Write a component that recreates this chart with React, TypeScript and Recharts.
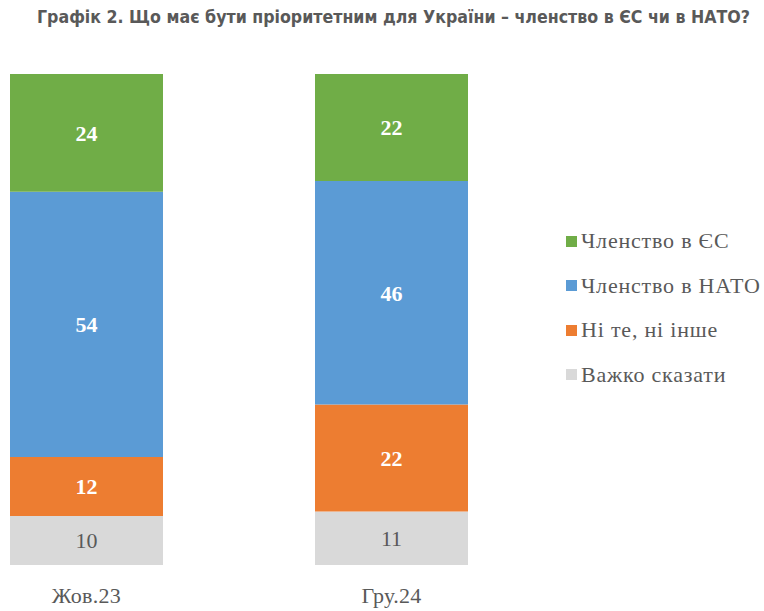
import React from 'react';
import { BarChart, Bar, XAxis, YAxis, Legend, LabelList } from 'recharts';

const categories = ['Жов.23', 'Гру.24'];
const euValues = [24, 22];
const natoValues = [54, 46];
const neitherValues = [12, 22];
const hardValues = [10, 11];

// legend order (top to bottom)
const legendNames = ['Членство в ЄС', 'Членство в НАТО', 'Ні те, ні інше', 'Важко сказати'];
const legendColors = ['#70AD47', '#5B9BD5', '#ED7D31', '#D9D9D9'];

const data = categories.map((name, i) => ({
  name,
  eu: euValues[i],
  nato: natoValues[i],
  neither: neitherValues[i],
  hard: hardValues[i],
}));

// stacking order: first declared is at the bottom
const series = [
  { key: 'hard', name: legendNames[3], color: legendColors[3], label: '#595959', weight: 'normal' },
  { key: 'neither', name: legendNames[2], color: legendColors[2], label: '#FFFFFF', weight: 'bold' },
  { key: 'nato', name: legendNames[1], color: legendColors[1], label: '#FFFFFF', weight: 'bold' },
  { key: 'eu', name: legendNames[0], color: legendColors[0], label: '#FFFFFF', weight: 'bold' },
];

const serif = '"Liberation Serif", "Times New Roman", serif';
const gray = '#595959';

const renderLegend = () => (
  <div style={{ fontFamily: serif, fontSize: 22, color: gray, letterSpacing: 0.8 }}>
    {legendNames.map((n, i) => (
      <div key={n} style={{ display: 'flex', alignItems: 'center', height: 44.5, whiteSpace: 'nowrap' }}>
        <span style={{ width: 11, height: 11, background: legendColors[i], marginRight: 4, display: 'inline-block' }} />
        <span>{n}</span>
      </div>
    ))}
  </div>
);

export default function App() {
  return (
    <div style={{ position: 'absolute', left: 0, top: 0, width: 764, height: 611, overflow: 'hidden', background: '#fff' }}>
      <svg width={764} height={40} style={{ position: 'absolute', left: 0, top: 0 }}>
        <text
          x={37}
          y={23}
          textLength={713}
          lengthAdjust="spacingAndGlyphs"
          fill={gray}
          fontSize={17}
          fontWeight="bold"
          fontFamily='"Liberation Sans Narrow", "DejaVu Sans Condensed", Arial, sans-serif'
        >
          Графік 2. Що має бути пріоритетним для України – членство в ЄС чи в НАТО?
        </text>
      </svg>
      <BarChart
        width={830}
        height={611}
        data={data}
        stackOffset="expand"
        margin={{ top: 74, right: 220, bottom: 0, left: 0 }}
        style={{ position: 'absolute', left: -66, top: 0 }}
      >
        <XAxis
          dataKey="name"
          axisLine={false}
          tickLine={false}
          height={46}
          tickMargin={16}
          tick={{ fill: gray, fontSize: 22, fontFamily: serif, letterSpacing: 0.3 }}
        />
        <YAxis hide domain={[0, 1]} />
        {series.map((s) => (
          <Bar key={s.key} dataKey={s.key} name={s.name} stackId="a" fill={s.color} barSize={153} isAnimationActive={false}>
            <LabelList
              dataKey={s.key}
              position="center"
              fill={s.label}
              fontSize={22}
              fontWeight={s.weight}
              fontFamily={serif}
            />
          </Bar>
        ))}
        <Legend
          layout="horizontal"
          align="center"
          verticalAlign="middle"
          content={renderLegend}
          wrapperStyle={{ position: 'absolute', left: 632, top: 219, width: 200 }}
        />
      </BarChart>
    </div>
  );
}
